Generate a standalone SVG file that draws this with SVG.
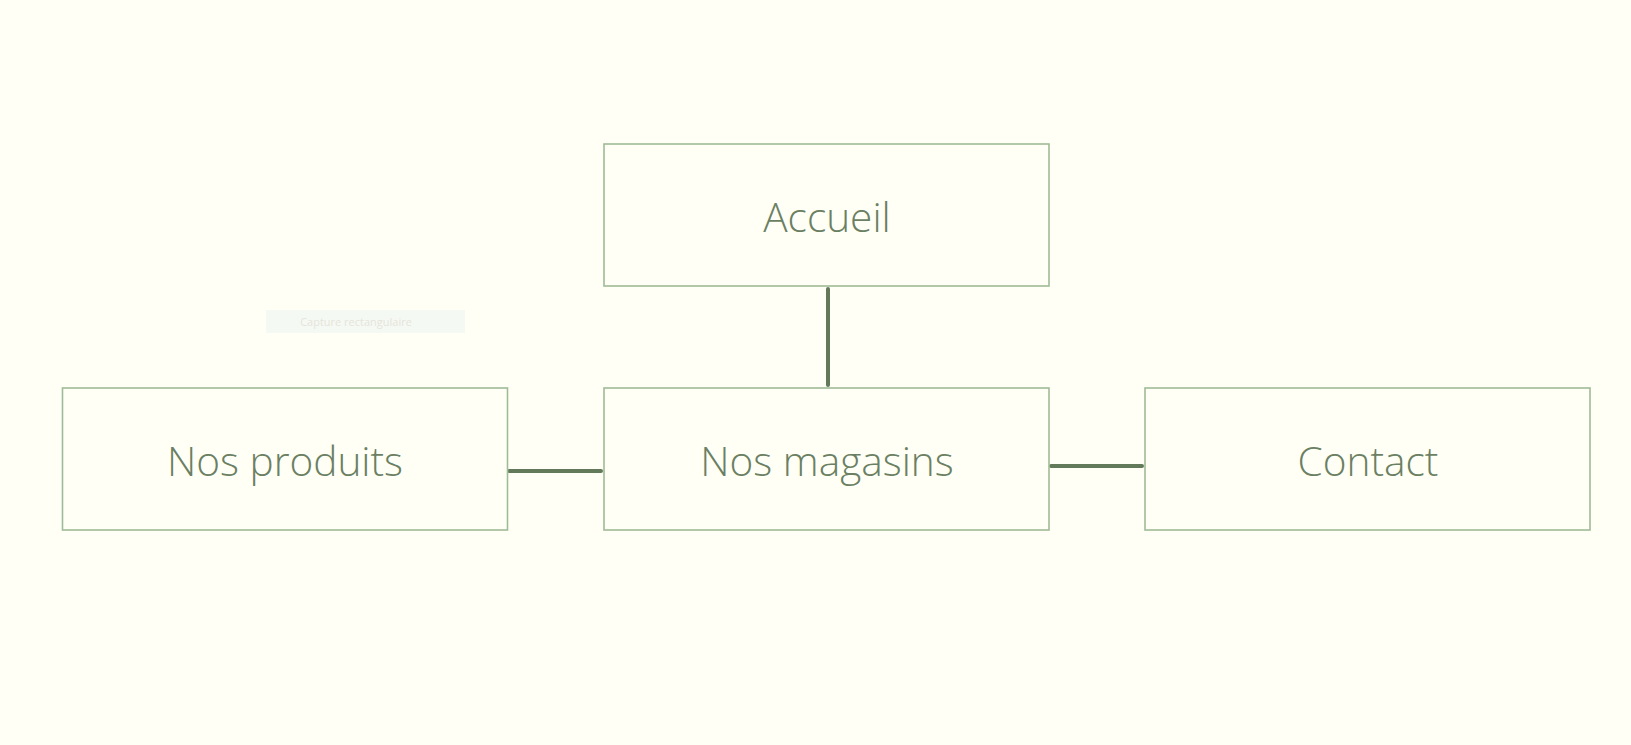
<svg xmlns="http://www.w3.org/2000/svg" width="1631" height="745" viewBox="0 0 1631 745">
<style>
.box{fill:#fffff6;stroke:#a0bb97;stroke-width:1.6}
.lbl{font-family:"Open Sans","Liberation Sans",sans-serif;font-weight:300;font-size:40.6px;fill:#6b7f63;text-anchor:middle}
.conn{stroke:#627a59;stroke-width:4;stroke-linecap:round;fill:none}
</style>
<rect x="0" y="0" width="1631" height="745" fill="#fffff6"/>
<g id="capture">
<rect x="266" y="310" width="199" height="23" fill="#f5f9f4"/>
<text x="356" y="326" font-family="'Open Sans','Liberation Sans',sans-serif" font-size="11" fill="#e6e4d9" text-anchor="middle">Capture rectangulaire</text>
</g>
<g id="connectors">
<line class="conn" x1="828" y1="289" x2="828" y2="385"/>
<line class="conn" x1="509" y1="471" x2="601" y2="471"/>
<line class="conn" x1="1051" y1="466" x2="1142" y2="466"/>
</g>
<g id="accueil">
<rect class="box" x="604" y="144" width="445" height="142"/>
<text class="lbl" x="827" y="232">Accueil</text>
</g>
<g id="nos-produits">
<rect class="box" x="62.5" y="388" width="445" height="142"/>
<text class="lbl" x="285" y="476">Nos produits</text>
</g>
<g id="nos-magasins">
<rect class="box" x="604" y="388" width="445" height="142"/>
<text class="lbl" x="827" y="476">Nos magasins</text>
</g>
<g id="contact">
<rect class="box" x="1145" y="388" width="445" height="142"/>
<text class="lbl" x="1368" y="476">Contact</text>
</g>
</svg>
